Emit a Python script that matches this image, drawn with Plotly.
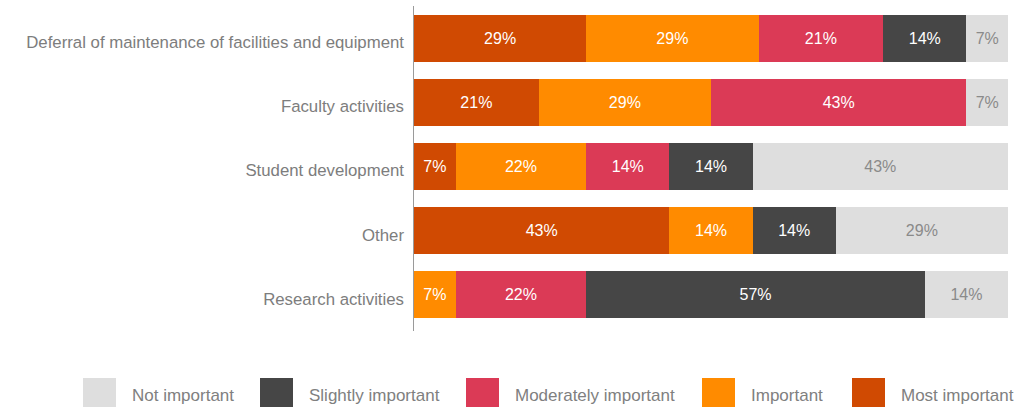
import plotly.graph_objects as go

# Survey categories, top to bottom
categories = [
    "Deferral of maintenance of facilities and equipment",
    "Faculty activities",
    "Student development",
    "Other",
    "Research activities",
]

# Share of responses (%) per importance level, in stacking order
most_important = [29, 21, 7, 43, 0]
important = [29, 29, 22, 14, 7]
moderately_important = [21, 43, 14, 0, 22]
slightly_important = [14, 0, 14, 14, 57]
not_important = [7, 7, 43, 29, 14]

series = [
    ("Most important", most_important, "#D04A02", "#FFFFFF"),
    ("Important", important, "#FF8B00", "#FFFFFF"),
    ("Moderately important", moderately_important, "#DB3A56", "#FFFFFF"),
    ("Slightly important", slightly_important, "#464646", "#FFFFFF"),
    ("Not important", not_important, "#DEDEDE", "#8A8A8A"),
]

# Legend order as shown below the chart
legend_order = ["Not important", "Slightly important", "Moderately important",
                "Important", "Most important"]

FONT = "Liberation Sans, Arial, Helvetica, sans-serif"

W, H = 1035, 407
ML, MR, MT, MB = 414, 27, 6, 80
PW, PH = W - ML - MR, H - MT - MB


def px_x(x):
    return (x - ML) / PW


def px_y(y):
    return 1 - (y - MT) / PH


fig = go.Figure()
for name, values, color, txtcolor in series:
    fig.add_trace(go.Bar(
        y=categories,
        x=values,
        name=name,
        orientation="h",
        marker=dict(color=color, line=dict(width=0)),
        text=[f"{v}%" if v > 0 else "" for v in values],
        textposition="inside",
        insidetextanchor="middle",
        textangle=0,
        constraintext="none",
        textfont=dict(family=FONT, size=16, color=txtcolor),
        hoverinfo="skip",
        showlegend=False,
    ))

# Custom legend: large colour squares with labels along the bottom
color_of = {name: color for name, _, color, _ in series}
legend_x = [83, 260, 466, 702, 852]
for name, x0 in zip(legend_order, legend_x):
    fig.add_shape(
        type="rect", xref="paper", yref="paper",
        x0=px_x(x0), x1=px_x(x0 + 33),
        y0=px_y(378), y1=px_y(407),
        fillcolor=color_of[name], line=dict(width=0),
    )
    fig.add_annotation(
        xref="paper", yref="paper",
        x=px_x(x0 + 47), y=px_y(395),
        xanchor="left", yanchor="middle",
        text=name, showarrow=False,
        font=dict(family=FONT, size=17, color="#808080"),
    )

# Vertical axis rule extending slightly below the last bar
fig.add_shape(
    type="line", xref="paper", yref="paper",
    x0=px_x(413.5), x1=px_x(413.5), y0=px_y(6), y1=px_y(331),
    line=dict(color="#9A9A9A", width=1),
)

fig.update_layout(
    barmode="stack",
    bargap=0.27,
    width=W,
    height=H,
    margin=dict(l=ML, r=MR, t=MT, b=MB),
    plot_bgcolor="white",
    paper_bgcolor="white",
    xaxis=dict(range=[0, 100], visible=False, fixedrange=True),
    yaxis=dict(
        autorange="reversed",
        showline=False,
        showgrid=False,
        ticks="",
        ticklabelstandoff=9,
        ticklabelshift=-4,
        tickfont=dict(family=FONT, size=16.8, color="#7D7D7D"),
        fixedrange=True,
    ),
)

fig.write_html("out.html")
